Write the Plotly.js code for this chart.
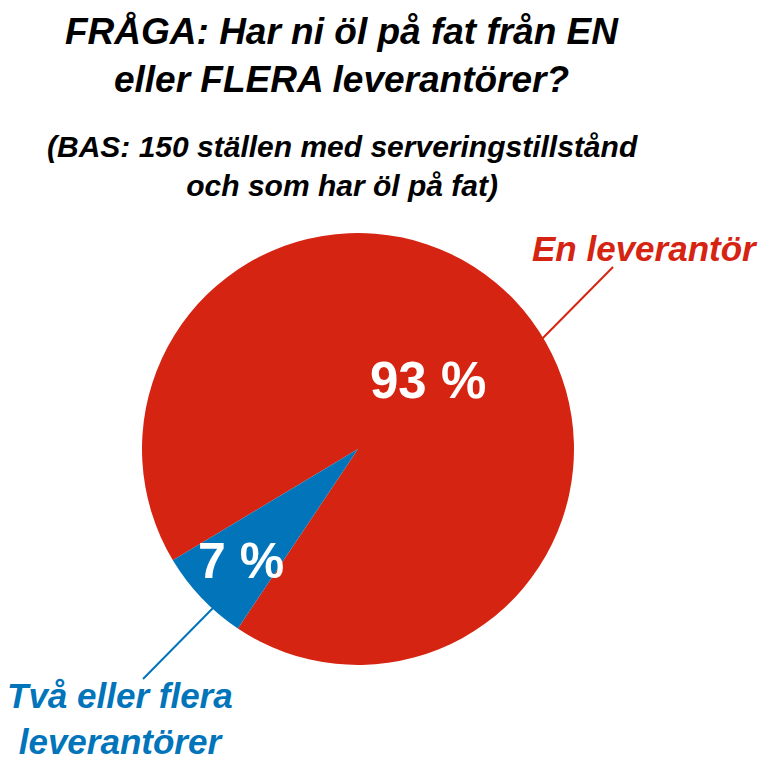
<!DOCTYPE html>
<html>
<head>
<meta charset="utf-8">
<script src="https://cdn.plot.ly/plotly-3.0.1.min.js"></script>
<style>
  html, body { margin: 0; padding: 0; background: #fff; }
  #chart { width: 768px; height: 762px; }
</style>
</head>
<body>
<div id="chart"></div>
<script>
// Data
const categories = ['En leverantör', 'Två eller flera<br>leverantörer'];
const shares = [93, 7];
const sliceColors = ['#D62412', '#0174BA'];

const titleText = 'FRÅGA: Har ni öl på fat från EN<br>eller FLERA leverantörer?';
const subtitleText = '(BAS: 150 ställen med serveringstillstånd<br>och som har öl på fat)';

const W = 768, H = 762;
const FONT = 'Liberation Sans, Arial, sans-serif';

// pixel -> paper helpers
const px = x => x / W;
const py = y => 1 - y / H;

function txt(text, x, y, size, color, style) {
    return {
        text: text, xref: 'paper', yref: 'paper',
        x: px(x), y: py(y), xanchor: 'center', yanchor: 'middle',
        showarrow: false, align: 'center',
        font: { family: FONT, size: size, color: color, weight: 'bold', style: style || 'italic' }
    };
}

const trace = {
    type: 'pie',
    labels: categories,
    values: shares,
    sort: false,
    direction: 'clockwise',
    rotation: -121,
    marker: { colors: sliceColors, line: { width: 0 } },
    textinfo: 'none',
    hoverinfo: 'label+percent',
    domain: { x: [px(142), px(574)], y: [py(665), py(233)] },
    showlegend: false
};

const annotations = [
    txt(titleText, 342, 56, 37, '#000'),
    txt(subtitleText, 342, 166, 30, '#000'),
    // values inside slices
    txt(shares[0] + ' %', 428, 380, 51, '#fff', 'normal'),
    txt(shares[1] + ' %', 241, 561, 50, '#fff', 'normal'),
    // outside labels
    txt(categories[0], 645, 249, 35, sliceColors[0]),
    txt(categories[1], 120, 718, 35, sliceColors[1])
];

const shapes = [
    { type: 'line', xref: 'paper', yref: 'paper', x0: px(613), y0: py(267), x1: px(535), y1: py(346),
      line: { color: sliceColors[0], width: 2 } },
    { type: 'line', xref: 'paper', yref: 'paper', x0: px(213), y0: py(608), x1: px(143), y1: py(679),
      line: { color: sliceColors[1], width: 2 } }
];

const layout = {
    width: W, height: H,
    margin: { l: 0, r: 0, t: 0, b: 0 },
    paper_bgcolor: '#fff',
    annotations: annotations,
    shapes: shapes
};

Plotly.newPlot('chart', [trace], layout, { displayModeBar: false, staticPlot: true });
</script>
</body>
</html>
